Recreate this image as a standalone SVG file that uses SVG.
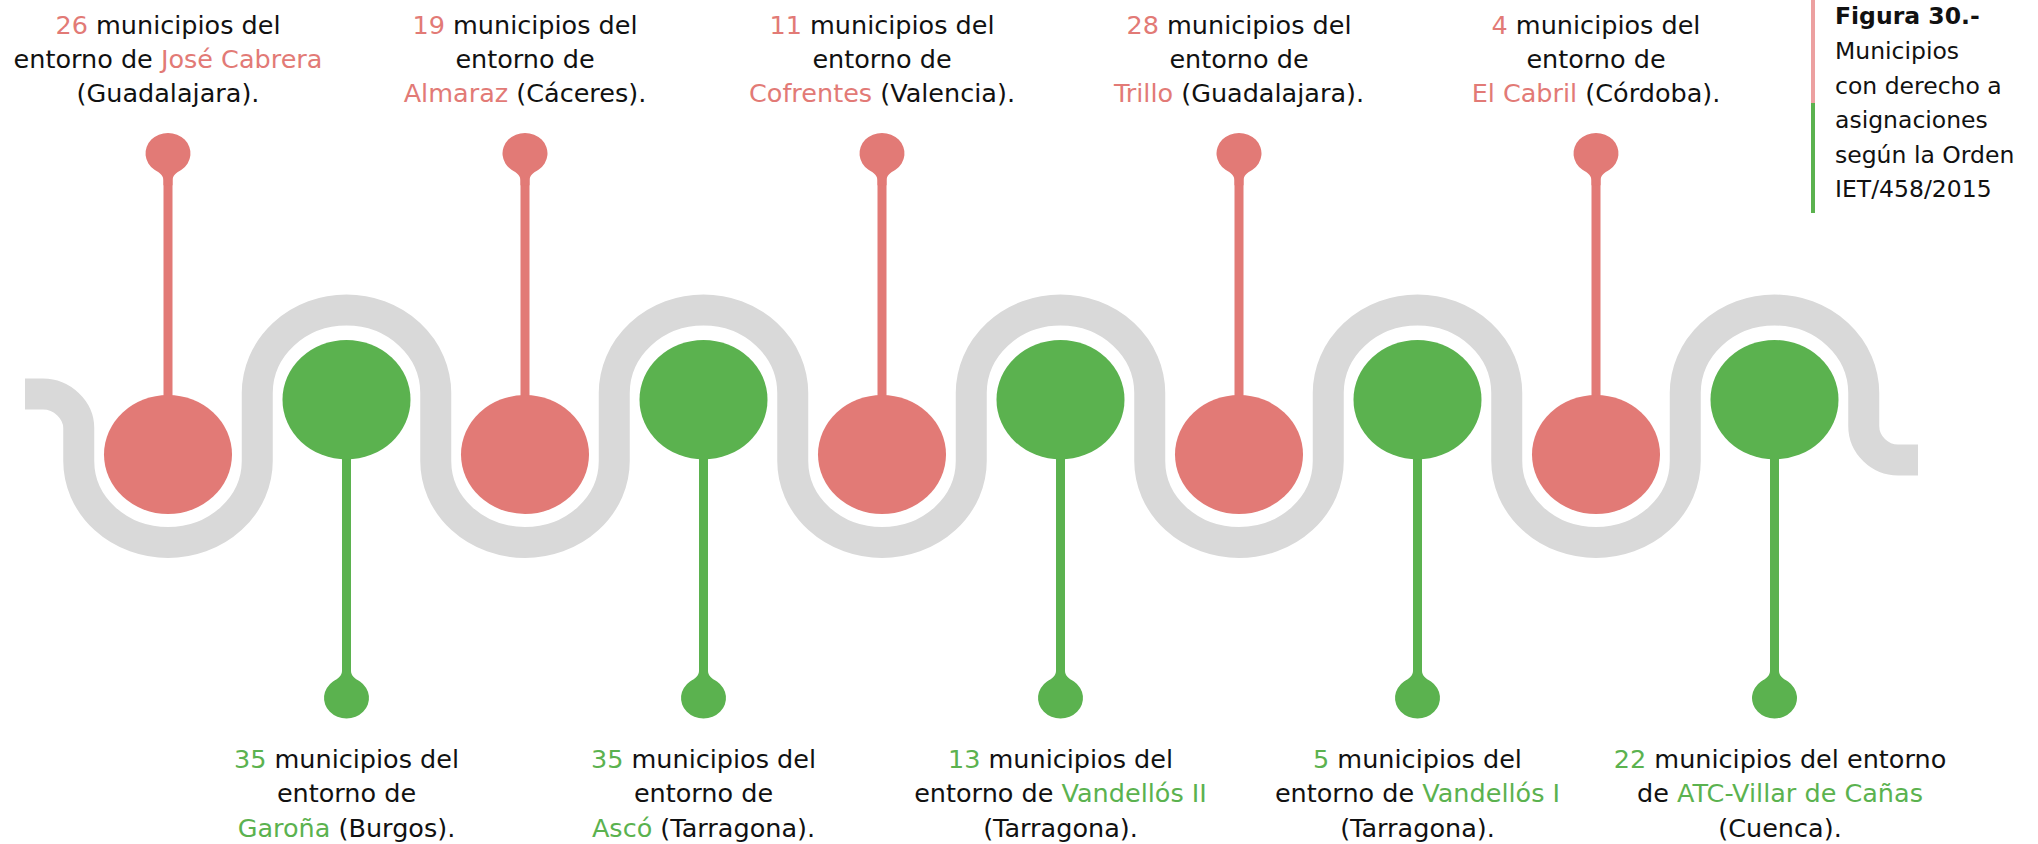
<svg xmlns="http://www.w3.org/2000/svg" xmlns:xlink="http://www.w3.org/1999/xlink" width="2038" height="844" viewBox="0 0 2038 844">
<style>
.t{font-family:"DejaVu Sans","Liberation Sans",sans-serif;font-size:25.5px;fill:#111;text-anchor:middle}
.lg{font-family:"DejaVu Sans","Liberation Sans",sans-serif;font-size:23.5px;fill:#111}
.b{font-weight:bold}
.r{fill:#e27a76}
.g{fill:#5bb24f}
.band{fill:none;stroke:#d9d9d9;stroke-width:31}
.rs{stroke:#e27a76;stroke-width:9}
.gs{stroke:#5bb24f;stroke-width:9}
</style>
<defs>
<path id="spoon" d="M-4.5,32 V27 C-4.5,22.5 -8,19.5 -13.5,16.5 A22.5,20.5 0 1 1 13.5,16.5 C8,19.5 4.5,22.5 4.5,27 V32 Z"/>
</defs>
<rect width="2038" height="844" fill="#fff"/>
<g id="connectors">
<path class="band" d="M25,394 H43 C62,394 78.75,410 78.75,428 V461 A89.25,81.5 0 0 0 257.25,461 V393 A89.25,83 0 0 1 435.75,393 V461 A89.25,81.5 0 0 0 614.25,461 V393 A89.25,83 0 0 1 792.75,393 V461 A89.25,81.5 0 0 0 971.25,461 V393 A89.25,83 0 0 1 1149.75,393 V461 A89.25,81.5 0 0 0 1328.25,461 V393 A89.25,83 0 0 1 1506.75,393 V461 A89.25,81.5 0 0 0 1685.25,461 V393 A89.25,83 0 0 1 1863.75,393 V426 C1863.75,445 1880,460 1898,460 H1918"/>
</g>
<g id="n-jose-cabrera">
<line class="rs" x1="168" y1="170" x2="168" y2="400"/>
<use xlink:href="#spoon" href="#spoon" class="r" transform="translate(168,153.3)"/>
<ellipse class="r" cx="168" cy="454.5" rx="64" ry="59.5"/>
<text class="t" x="168" y="33.5"><tspan class="r">26</tspan> municipios del</text>
<text class="t" x="168" y="68">entorno de <tspan class="r">José Cabrera</tspan></text>
<text class="t" x="168" y="102">(Guadalajara).</text>
</g>
<g id="n-garona">
<line class="gs" x1="346.5" y1="455" x2="346.5" y2="682"/>
<use xlink:href="#spoon" href="#spoon" class="g" transform="translate(346.5,698) scale(1,-1)"/>
<ellipse class="g" cx="346.5" cy="399.7" rx="64" ry="59.7"/>
<text class="t" x="346.5" y="767.5"><tspan class="g">35</tspan> municipios del</text>
<text class="t" x="346.5" y="802">entorno de</text>
<text class="t" x="346.5" y="836.5"><tspan class="g">Garoña</tspan> (Burgos).</text>
</g>
<g id="n-almaraz">
<line class="rs" x1="525" y1="170" x2="525" y2="400"/>
<use xlink:href="#spoon" href="#spoon" class="r" transform="translate(525,153.3)"/>
<ellipse class="r" cx="525" cy="454.5" rx="64" ry="59.5"/>
<text class="t" x="525" y="33.5"><tspan class="r">19</tspan> municipios del</text>
<text class="t" x="525" y="68">entorno de</text>
<text class="t" x="525" y="102"><tspan class="r">Almaraz</tspan> (Cáceres).</text>
</g>
<g id="n-asco">
<line class="gs" x1="703.5" y1="455" x2="703.5" y2="682"/>
<use xlink:href="#spoon" href="#spoon" class="g" transform="translate(703.5,698) scale(1,-1)"/>
<ellipse class="g" cx="703.5" cy="399.7" rx="64" ry="59.7"/>
<text class="t" x="703.5" y="767.5"><tspan class="g">35</tspan> municipios del</text>
<text class="t" x="703.5" y="802">entorno de</text>
<text class="t" x="703.5" y="836.5"><tspan class="g">Ascó</tspan> (Tarragona).</text>
</g>
<g id="n-cofrentes">
<line class="rs" x1="882" y1="170" x2="882" y2="400"/>
<use xlink:href="#spoon" href="#spoon" class="r" transform="translate(882,153.3)"/>
<ellipse class="r" cx="882" cy="454.5" rx="64" ry="59.5"/>
<text class="t" x="882" y="33.5"><tspan class="r">11</tspan> municipios del</text>
<text class="t" x="882" y="68">entorno de</text>
<text class="t" x="882" y="102"><tspan class="r">Cofrentes</tspan> (Valencia).</text>
</g>
<g id="n-vandellos-2">
<line class="gs" x1="1060.5" y1="455" x2="1060.5" y2="682"/>
<use xlink:href="#spoon" href="#spoon" class="g" transform="translate(1060.5,698) scale(1,-1)"/>
<ellipse class="g" cx="1060.5" cy="399.7" rx="64" ry="59.7"/>
<text class="t" x="1060.5" y="767.5"><tspan class="g">13</tspan> municipios del</text>
<text class="t" x="1060.5" y="802">entorno de <tspan class="g">Vandellós II</tspan></text>
<text class="t" x="1060.5" y="836.5">(Tarragona).</text>
</g>
<g id="n-trillo">
<line class="rs" x1="1239" y1="170" x2="1239" y2="400"/>
<use xlink:href="#spoon" href="#spoon" class="r" transform="translate(1239,153.3)"/>
<ellipse class="r" cx="1239" cy="454.5" rx="64" ry="59.5"/>
<text class="t" x="1239" y="33.5"><tspan class="r">28</tspan> municipios del</text>
<text class="t" x="1239" y="68">entorno de</text>
<text class="t" x="1239" y="102"><tspan class="r">Trillo</tspan> (Guadalajara).</text>
</g>
<g id="n-vandellos-1">
<line class="gs" x1="1417.5" y1="455" x2="1417.5" y2="682"/>
<use xlink:href="#spoon" href="#spoon" class="g" transform="translate(1417.5,698) scale(1,-1)"/>
<ellipse class="g" cx="1417.5" cy="399.7" rx="64" ry="59.7"/>
<text class="t" x="1417.5" y="767.5"><tspan class="g">5</tspan> municipios del</text>
<text class="t" x="1417.5" y="802">entorno de <tspan class="g">Vandellós I</tspan></text>
<text class="t" x="1417.5" y="836.5">(Tarragona).</text>
</g>
<g id="n-el-cabril">
<line class="rs" x1="1596" y1="170" x2="1596" y2="400"/>
<use xlink:href="#spoon" href="#spoon" class="r" transform="translate(1596,153.3)"/>
<ellipse class="r" cx="1596" cy="454.5" rx="64" ry="59.5"/>
<text class="t" x="1596" y="33.5"><tspan class="r">4</tspan> municipios del</text>
<text class="t" x="1596" y="68">entorno de</text>
<text class="t" x="1596" y="102"><tspan class="r">El Cabril</tspan> (Córdoba).</text>
</g>
<g id="n-atc">
<line class="gs" x1="1774.5" y1="455" x2="1774.5" y2="682"/>
<use xlink:href="#spoon" href="#spoon" class="g" transform="translate(1774.5,698) scale(1,-1)"/>
<ellipse class="g" cx="1774.5" cy="399.7" rx="64" ry="59.7"/>
<text class="t" x="1780" y="767.5"><tspan class="g">22</tspan> municipios del entorno</text>
<text class="t" x="1780" y="802">de <tspan class="g">ATC-Villar de Cañas</tspan></text>
<text class="t" x="1780" y="836.5">(Cuenca).</text>
</g>
<g id="legend">
<rect x="1811" y="0" width="4" height="103" fill="#eca0a0"/>
<rect x="1811" y="103" width="4" height="110" fill="#5bb24f"/>
<text class="lg b" x="1835" y="24">Figura 30.-</text>
<text class="lg" x="1835" y="59">Municipios</text>
<text class="lg" x="1835" y="93.5">con derecho a</text>
<text class="lg" x="1835" y="128">asignaciones</text>
<text class="lg" x="1835" y="162.5">según la Orden</text>
<text class="lg" x="1835" y="197">IET/458/2015</text>
</g>
</svg>
